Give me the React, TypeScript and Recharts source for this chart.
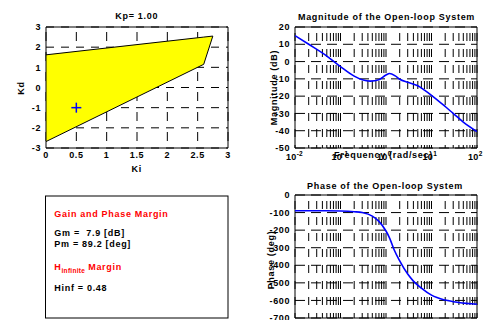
import React from 'react';
import {
  ComposedChart,
  LineChart,
  Line,
  Area,
  XAxis,
  YAxis,
  CartesianGrid,
  ReferenceArea,
  ReferenceDot,
} from 'recharts';

const FONT = '"Liberation Sans", Arial, Helvetica, sans-serif';

// ---------- Stability region (Ki, Kd) for Kp = 1.00 ----------
const kpTitle = 'Kp= 1.00';
const regionKi = [0, 2.6, 2.75];
const regionKdLower = [-2.68, 1.15, 2.55];
const regionKdUpper = [1.62, 2.5, 2.55];
const designKi = 0.5;
const designKd = -1;
const kiTicks = [0, 0.5, 1, 1.5, 2, 2.5, 3];
const kdTicks = [-3, -2, -1, 0, 1, 2, 3];

// ---------- Bode magnitude ----------
const magFreq = [0.01, 0.02, 0.05, 0.1, 0.2, 0.3, 0.45, 0.7, 1.0, 1.2, 1.6, 2, 3, 5, 7, 10, 20, 30, 50, 100];
const magDb = [15, 10, 3.2, -2.9, -8.4, -10.5, -11.3, -10.5, -7.8, -6.9, -8.3, -10.2, -12, -14, -16.5, -19.5, -26, -30, -35, -40.5];
const magTicks = [-50, -40, -30, -20, -10, 0, 10, 20];

// ---------- Bode phase ----------
const phaseFreq = [0.01, 0.05, 0.1, 0.2, 0.3, 0.5, 0.7, 1.0, 1.2, 1.5, 2, 3, 4, 6, 10, 20, 40, 100];
const phaseDeg = [-90, -90, -91, -95, -100, -120, -150, -205, -245, -310, -375, -450, -490, -530, -570, -598, -612, -622];
const phaseTicks = [-700, -600, -500, -400, -300, -200, -100, 0];

const decadeExps = [-2, -1, 0, 1];
const minorMults = [1, 2, 3, 4, 5, 6, 7, 8, 9];
const logTicks: number[] = [];
decadeExps.forEach((e) => minorMults.forEach((m) => logTicks.push(+(m * Math.pow(10, e)).toPrecision(6))));
logTicks.push(100);

// ---------- Margin box texts ----------
const gmText = 'Gm =  7.9 [dB]';
const pmText = 'Pm = 89.2 [deg]';
const hinfText = 'Hinf = 0.48';

const regionData = regionKi.map((ki, i) => ({ ki, range: [regionKdLower[i], regionKdUpper[i]] }));
const magData = magFreq.map((f, i) => ({ f, v: magDb[i] }));
const phaseData = phaseFreq.map((f, i) => ({ f, v: phaseDeg[i] }));

const tickStyle = { fontFamily: FONT, fontWeight: 700, fontSize: 9, fill: '#000', letterSpacing: 0.6 };

const LogTick = (props: any) => {
  const { x, y, payload, shift = 10 } = props;
  const v = payload.value;
  const e = Math.round(Math.log10(v));
  if (Math.abs(v - Math.pow(10, e)) > 1e-6 * v) return null;
  return (
    <text x={x - 9} y={y + shift} fontFamily={FONT} fontWeight={700} fontSize={9} fill="#000" letterSpacing={0.3}>
      <tspan>10</tspan>
      <tspan dy={-4} fontSize={6.5}>{String(e)}</tspan>
    </text>
  );
};

const hLine = (dash: string) => (p: any) => (
  <line key={`h-${p.index}-${p.y1}`} x1={p.x1} y1={p.y1} x2={p.x2} y2={p.y2} stroke="#000" strokeWidth={1} strokeDasharray={dash} fill="none" />
);
const vLine = (dash: string, offset: number) => (p: any) => (
  <line key={`v-${p.index}-${p.x1}`} x1={p.x1} y1={p.y1} x2={p.x2} y2={p.y2} stroke="#000" strokeWidth={1} strokeDasharray={dash} strokeDashoffset={offset} fill="none" />
);

const PlusShape = (props: any) => {
  const { cx, cy } = props;
  return (
    <g>
      <line x1={cx - 5} y1={cy} x2={cx + 5} y2={cy} stroke="#0000ff" strokeWidth={1.5} />
      <line x1={cx} y1={cy - 5} x2={cx} y2={cy + 5} stroke="#0000ff" strokeWidth={1.5} />
    </g>
  );
};

const txt = { fontFamily: FONT, fontWeight: 700 as const, letterSpacing: 0.7 };

export default function App() {
  return (
    <div style={{ position: 'absolute', left: 0, top: 0, width: 483, height: 320, overflow: 'hidden', background: '#fff' }}>
      {/* Stability region */}
      <div style={{ position: 'absolute', left: 0, top: 0 }}>
        <ComposedChart width={240} height={180} data={regionData} margin={{ top: 27, right: 12, left: 0, bottom: 0 }}>
          <CartesianGrid horizontal={hLine('8 7')} vertical={vLine('9 11', -5)} />
          <XAxis
            dataKey="ki"
            type="number"
            domain={[0, 3]}
            ticks={kiTicks}
            interval={0}
            height={32}
            tickLine={false}
            axisLine={false}
            tickSize={0}
            tickMargin={4}
            tick={tickStyle}
            allowDataOverflow
          />
          <YAxis
            type="number"
            domain={[-3, 3]}
            ticks={kdTicks}
            interval={0}
            width={46}
            tickLine={false}
            axisLine={false}
            tickSize={0}
            tickMargin={5}
            tick={tickStyle}
            allowDataOverflow
          />
          <Area
            dataKey="range"
            type="linear"
            fill="#ffff00"
            fillOpacity={1}
            stroke="#000"
            strokeWidth={1}
            isAnimationActive={false}
            dot={false}
            activeDot={false}
          />
          <ReferenceDot x={designKi} y={designKd} shape={PlusShape} />
          <ReferenceArea x1={0} x2={3} y1={-3} y2={3} fill="none" stroke="#000" strokeWidth={1} />
        </ComposedChart>
      </div>

      {/* Magnitude */}
      <div style={{ position: 'absolute', left: 240, top: 0 }}>
        <LineChart width={243} height={170} data={magData} margin={{ top: 27, right: 6, left: 0, bottom: 0 }}>
          <CartesianGrid horizontal={hLine('10 6')} vertical={vLine('8 8', -6)} />
          <XAxis
            dataKey="f"
            type="number"
            scale="log"
            domain={[0.01, 100]}
            ticks={logTicks}
            interval={0}
            height={22}
            tickLine={false}
            axisLine={false}
            tickSize={0}
            tick={<LogTick shift={10} />}
            allowDataOverflow
          />
          <YAxis
            type="number"
            domain={[-50, 20]}
            ticks={magTicks}
            interval={0}
            width={55}
            tickLine={false}
            axisLine={false}
            tickSize={0}
            tickMargin={5}
            tick={tickStyle}
            allowDataOverflow
          />
          <Line dataKey="v" type="monotone" stroke="#0000ff" strokeWidth={1.6} dot={false} activeDot={false} isAnimationActive={false} />
          <ReferenceArea x1={0.01} x2={100} y1={-50} y2={20} fill="none" stroke="#000" strokeWidth={1} />
        </LineChart>
      </div>

      {/* Phase */}
      <div style={{ position: 'absolute', left: 240, top: 170 }}>
        <LineChart width={243} height={170} data={phaseData} margin={{ top: 25, right: 6, left: 0, bottom: 0 }}>
          <CartesianGrid horizontal={hLine('10 6')} vertical={vLine('8 8', -6)} />
          <XAxis
            dataKey="f"
            type="number"
            scale="log"
            domain={[0.01, 100]}
            ticks={logTicks}
            interval={0}
            height={22}
            tickLine={false}
            axisLine={false}
            tickSize={0}
            tick={<LogTick shift={14} />}
            allowDataOverflow
          />
          <YAxis
            type="number"
            domain={[-700, 0]}
            ticks={phaseTicks}
            interval={0}
            width={55}
            tickLine={false}
            axisLine={false}
            tickSize={0}
            tickMargin={5}
            tick={tickStyle}
            allowDataOverflow
          />
          <Line dataKey="v" type="monotone" stroke="#0000ff" strokeWidth={1.6} dot={false} activeDot={false} isAnimationActive={false} />
          <ReferenceArea x1={0.01} x2={100} y1={-700} y2={0} fill="none" stroke="#000" strokeWidth={1} />
        </LineChart>
      </div>

      {/* Titles, axis labels and margin box */}
      <svg width={483} height={320} style={{ position: 'absolute', left: 0, top: 0, pointerEvents: 'none' }}>
        <text x={136.7} y={18.5} textAnchor="middle" fontSize={9} {...txt}>{kpTitle}</text>
        <text x={136.7} y={172} textAnchor="middle" fontSize={9} {...txt}>Ki</text>
        <text x={24} y={88} textAnchor="middle" fontSize={9} {...txt} transform="rotate(-90 24 88)">Kd</text>

        <text x={386.5} y={19.5} textAnchor="middle" fontSize={9} {...txt}>Magnitude of the Open-loop System</text>
        <text x={383.5} y={157.5} textAnchor="middle" fontSize={9} {...txt}>Frequency (rad/sec)</text>
        <text x={276.5} y={87.5} textAnchor="middle" fontSize={9} {...txt} transform="rotate(-90 276.5 87.5)">Magnitude (dB)</text>

        <text x={385} y={189} textAnchor="middle" fontSize={9} {...txt}>Phase of the Open-loop System</text>
        <text x={273.5} y={260} textAnchor="middle" fontSize={9} {...txt} transform="rotate(-90 273.5 260)">Phase (deg)</text>

        <rect x={45.5} y={196} width={182.5} height={122} fill="#fff" stroke="#000" strokeWidth={1} />
        <text x={54.3} y={216.5} fontSize={9} fill="#ff0000" {...txt}>Gain and Phase Margin</text>
        <text x={54.3} y={236} fontSize={9} fill="#000" {...txt} style={{ whiteSpace: 'pre' }}>{gmText}</text>
        <text x={54.3} y={246.8} fontSize={9} fill="#000" {...txt}>{pmText}</text>
        <text x={54.3} y={270} fontSize={9} fill="#ff0000" {...txt}>
          <tspan>H</tspan>
          <tspan fontSize={6.5} dy={3} letterSpacing={0.3}>infinite</tspan>
          <tspan dy={-3} dx={3}>Margin</tspan>
        </text>
        <text x={54.3} y={291} fontSize={9} fill="#000" {...txt}>{hinfText}</text>
      </svg>
    </div>
  );
}
